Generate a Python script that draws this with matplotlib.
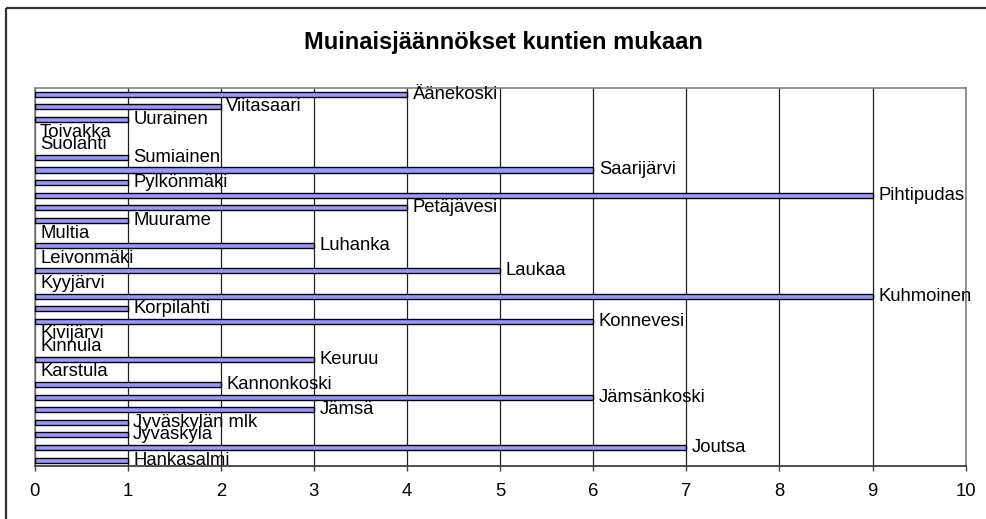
import matplotlib.pyplot as plt
from matplotlib.lines import Line2D
import numpy as np

# Municipalities, bottom to top as drawn
kunnat = ["Hankasalmi", "Joutsa", "Jyväskylä", "Jyväskylän mlk", "Jämsä",
          "Jämsänkoski", "Kannonkoski", "Karstula", "Keuruu", "Kinnula",
          "Kivijärvi", "Konnevesi", "Korpilahti", "Kuhmoinen", "Kyyjärvi",
          "Laukaa", "Leivonmäki", "Luhanka", "Multia", "Muurame",
          "Petäjävesi", "Pihtipudas", "Pylkönmäki", "Saarijärvi", "Sumiainen",
          "Suolahti", "Toivakka", "Uurainen", "Viitasaari", "Äänekoski"]
maarat = [1, 7, 1, 1, 3,
          6, 2, 0, 3, 0,
          0, 6, 1, 9, 0,
          5, 0, 3, 0, 1,
          4, 9, 1, 6, 1,
          0, 0, 1, 2, 4]
x_ticks = [0, 1, 2, 3, 4, 5, 6, 7, 8, 9, 10]
title = "Muinaisjäännökset kuntien mukaan"

plt.rcParams['font.family'] = ['Liberation Sans', 'DejaVu Sans']

fig = plt.figure(figsize=(9.86, 5.19), dpi=100)
ax = fig.add_axes([0.035, 0.1012, 0.9444, 0.7293])

y = np.arange(len(kunnat))
# zero-length bars get no outline, as in the original
edges = ['black' if v > 0 else 'none' for v in maarat]
ax.barh(y, maarat, height=0.4, color='#9999FF', edgecolor=edges, linewidth=1, zorder=3)

# data labels next to bar ends
for yi, val, name in zip(y, maarat, kunnat):
    ax.annotate(name, (val, yi), xytext=(4, 0), textcoords='offset points',
                va='center', ha='left', fontsize=13.3, color='black', zorder=4)

ax.set_xlim(0, 10)
ax.set_ylim(-0.5, len(kunnat) - 0.5)
ax.set_xticks(x_ticks)
ax.set_xticklabels([str(t) for t in x_ticks], fontsize=13.3)
ax.set_yticks([])
ax.xaxis.grid(True, color='#202020', linewidth=0.9, zorder=0)
ax.tick_params(axis='x', direction='out', length=3.6, width=1, color='#404040', pad=8)

for side in ['top', 'right', 'left']:
    ax.spines[side].set_color('#808080')
    ax.spines[side].set_linewidth(1.2)
ax.spines['bottom'].set_color('#303030')
ax.spines['bottom'].set_linewidth(1.2)

fig.text(0.511, 1 - 42 / 519, title, ha='center', va='center',
         fontsize=17, fontweight='bold')

# outer chart frame: only its top and left edges fall inside the image
fx = 6 / 986
fy = 1 - 8 / 519
fig.add_artist(Line2D([fx, 1.05], [fy, fy], transform=fig.transFigure,
                      color='#333333', linewidth=1.6, solid_capstyle='butt'))
fig.add_artist(Line2D([fx, fx], [fy, -0.05], transform=fig.transFigure,
                      color='#333333', linewidth=1.6, solid_capstyle='butt'))

fig.savefig('out.png', dpi=100)
